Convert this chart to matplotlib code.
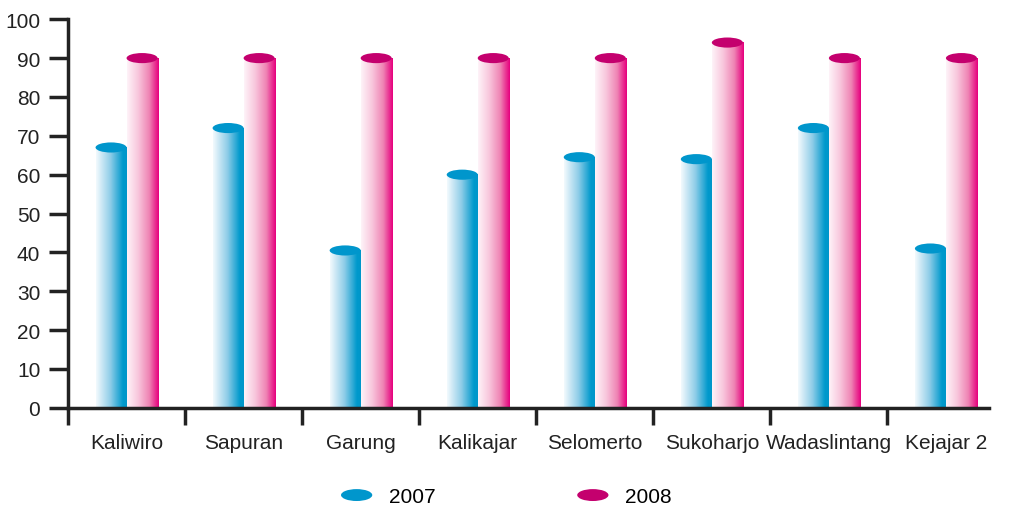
import matplotlib.pyplot as plt
import numpy as np
from matplotlib.patches import Ellipse
from matplotlib.colors import LinearSegmentedColormap
from matplotlib.legend_handler import HandlerPatch

plt.rcParams['font.family'] = ['Liberation Sans', 'DejaVu Sans']

desa = ['Kaliwiro', 'Sapuran', 'Garung', 'Kalikajar', 'Selomerto',
        'Sukoharjo', 'Wadaslintang', 'Kejajar 2']
th2007 = [67, 72, 40.5, 60, 64.5, 64, 72, 41]
th2008 = [90, 90, 90, 90, 90, 94, 90, 90]

biru = LinearSegmentedColormap.from_list(
    'biru', [(0, '#f2f9fd'), (0.45, '#8fcde8'), (0.85, '#0099cc'), (1, '#0096ca')])
pink = LinearSegmentedColormap.from_list(
    'pink', [(0, '#fef3f8'), (0.35, '#f8c6dc'), (0.7, '#ef84b4'), (1, '#e6007e')])
tutup_biru = '#0096cc'
tutup_pink = '#c4006e'

fig = plt.figure(figsize=(10.23, 5.06), dpi=100)
ax = fig.add_axes([0.0665, 0.192, 0.9005, 0.768])

w = 0.265
tinggi_tutup = 2.6
grad = np.linspace(0, 1, 64).reshape(1, -1)

def silinder(x0, val, cmap, warna_tutup):
    ax.imshow(grad, cmap=cmap, aspect='auto', extent=[x0, x0 + w, 0, val],
              interpolation='bilinear', zorder=2)
    ax.add_patch(Ellipse((x0 + w / 2, val), w, tinggi_tutup,
                         facecolor=warna_tutup, edgecolor='none', zorder=3))

x = np.arange(len(desa))
for i in range(len(desa)):
    silinder(x[i] - w, th2007[i], biru, tutup_biru)
    silinder(x[i], th2008[i], pink, tutup_pink)

ax.set_xlim(-0.5, 7.37)
ax.set_ylim(0, 100)
ax.set_yticks(range(0, 101, 10))
ax.set_xticks(x)
ax.set_xticklabels(desa)
ax.set_xticks(np.arange(-0.5, 7, 1), minor=True)
ax.tick_params(axis='x', which='major', length=0, pad=18, labelsize=15, colors='#222222')
ax.tick_params(axis='x', which='minor', length=12, width=2.5, color='#222222', direction='out')
ax.tick_params(axis='y', length=14, width=2.5, color='#222222', labelsize=15,
               labelcolor='#222222', pad=6)
for s in ['top', 'right']:
    ax.spines[s].set_visible(False)
for s in ['left', 'bottom']:
    ax.spines[s].set_linewidth(2.5)
    ax.spines[s].set_color('#222222')
    ax.spines[s].set_zorder(4)

h1 = Ellipse((0, 0), 1, 1, facecolor=tutup_biru, edgecolor='none')
h2 = Ellipse((0, 0), 1, 1, facecolor=tutup_pink, edgecolor='none')

def buat_elips(legend, orig_handle, xdescent, ydescent, width, height, fontsize):
    return Ellipse((width / 2 - xdescent, height / 2 - ydescent), width, height * 0.9)

fig.legend([h1, h2], ['2007', '2008'], loc='center', bbox_to_anchor=(0.495, 0.016),
           ncol=2, frameon=False, fontsize=15, handlelength=1.5, handleheight=0.6,
           handletextpad=0.8, columnspacing=6.8,
           handler_map={Ellipse: HandlerPatch(patch_func=buat_elips)})

fig.savefig('out.png', dpi=100)
